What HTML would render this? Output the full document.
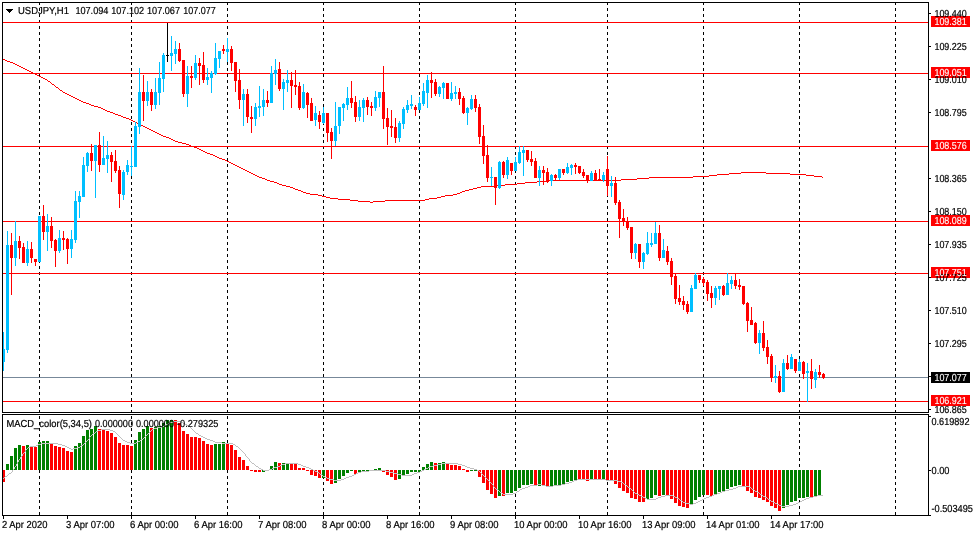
<!DOCTYPE html>
<html lang="en"><head><meta charset="utf-8"><title>USDJPY,H1</title>
<style>html,body{margin:0;padding:0;background:#fff;overflow:hidden}svg{display:block;will-change:transform}text{font-family:"Liberation Sans",Arial,sans-serif;font-size:10.2px;text-rendering:geometricPrecision;fill:#000;stroke:#000;stroke-width:.2px}.w{fill:#fff;stroke:#fff;stroke-width:.1px}</style></head><body>
<svg width="974" height="536" viewBox="0 0 974 536">
<rect width="974" height="536" fill="#fff"/>
<g shape-rendering="crispEdges">
<g fill="#000">
<path d="M39.5 2V412" stroke="#000" stroke-width="1" stroke-dasharray="3 3" fill="none"/>
<path d="M39.5 416V515" stroke="#000" stroke-width="1" stroke-dasharray="3 3" fill="none"/>
<path d="M131.5 2V412" stroke="#000" stroke-width="1" stroke-dasharray="3 3" fill="none"/>
<path d="M131.5 416V515" stroke="#000" stroke-width="1" stroke-dasharray="3 3" fill="none"/>
<path d="M227.5 2V412" stroke="#000" stroke-width="1" stroke-dasharray="3 3" fill="none"/>
<path d="M227.5 416V515" stroke="#000" stroke-width="1" stroke-dasharray="3 3" fill="none"/>
<path d="M323.5 2V412" stroke="#000" stroke-width="1" stroke-dasharray="3 3" fill="none"/>
<path d="M323.5 416V515" stroke="#000" stroke-width="1" stroke-dasharray="3 3" fill="none"/>
<path d="M419.5 2V412" stroke="#000" stroke-width="1" stroke-dasharray="3 3" fill="none"/>
<path d="M419.5 416V515" stroke="#000" stroke-width="1" stroke-dasharray="3 3" fill="none"/>
<path d="M515.5 2V412" stroke="#000" stroke-width="1" stroke-dasharray="3 3" fill="none"/>
<path d="M515.5 416V515" stroke="#000" stroke-width="1" stroke-dasharray="3 3" fill="none"/>
<path d="M607.5 2V412" stroke="#000" stroke-width="1" stroke-dasharray="3 3" fill="none"/>
<path d="M607.5 416V515" stroke="#000" stroke-width="1" stroke-dasharray="3 3" fill="none"/>
<path d="M703.5 2V412" stroke="#000" stroke-width="1" stroke-dasharray="3 3" fill="none"/>
<path d="M703.5 416V515" stroke="#000" stroke-width="1" stroke-dasharray="3 3" fill="none"/>
<path d="M799.5 2V412" stroke="#000" stroke-width="1" stroke-dasharray="3 3" fill="none"/>
<path d="M799.5 416V515" stroke="#000" stroke-width="1" stroke-dasharray="3 3" fill="none"/>
<path d="M895.5 2V412" stroke="#000" stroke-width="1" stroke-dasharray="3 3" fill="none"/>
<path d="M895.5 416V515" stroke="#000" stroke-width="1" stroke-dasharray="3 3" fill="none"/>
</g>
<rect x="3" y="377" width="925" height="1" fill="#778899"/>
<rect x="3" y="22" width="925" height="1" fill="#ff0000"/>
<rect x="3" y="73" width="925" height="1" fill="#ff0000"/>
<rect x="3" y="146" width="925" height="1" fill="#ff0000"/>
<rect x="3" y="221" width="925" height="1" fill="#ff0000"/>
<rect x="3" y="273" width="925" height="1" fill="#ff0000"/>
<rect x="3" y="401" width="925" height="1" fill="#ff0000"/>
<path d="M3 59h2v1h-2zM5 60h2v1h-2zM7 61h3v1h-3zM10 62h3v1h-3zM13 63h2v1h-2zM15 64h2v1h-2zM17 65h2v1h-2zM19 66h2v1h-2zM21 67h2v1h-2zM23 68h2v1h-2zM25 69h2v1h-2zM27 70h2v1h-2zM29 71h2v1h-2zM31 72h2v1h-2zM33 73h2v1h-2zM35 74h2v1h-2zM37 75h2v1h-2zM39 76h2v1h-2zM41 77h2v1h-2zM43 78h2v1h-2zM45 79h2v1h-2zM47 80h1v1h-1zM48 81h2v1h-2zM50 82h1v1h-1zM51 83h1v1h-1zM52 84h2v1h-2zM54 85h1v1h-1zM55 86h1v1h-1zM56 87h2v1h-2zM58 88h1v1h-1zM59 89h1v1h-1zM60 90h2v1h-2zM62 91h1v1h-1zM63 92h2v1h-2zM65 93h2v1h-2zM67 94h2v1h-2zM69 95h2v1h-2zM71 96h2v1h-2zM73 97h2v1h-2zM75 98h2v1h-2zM77 99h2v1h-2zM79 100h2v1h-2zM81 101h2v1h-2zM83 102h3v1h-3zM86 103h3v1h-3zM89 104h2v1h-2zM91 105h3v1h-3zM94 106h4v1h-4zM98 107h3v1h-3zM101 108h2v1h-2zM103 109h2v1h-2zM105 110h2v1h-2zM107 111h3v1h-3zM110 112h3v1h-3zM113 113h2v1h-2zM115 114h3v1h-3zM118 115h3v1h-3zM121 116h2v1h-2zM123 117h3v1h-3zM126 118h3v1h-3zM129 119h2v1h-2zM131 120h2v1h-2zM133 121h2v1h-2zM135 122h2v1h-2zM137 123h2v1h-2zM139 124h2v1h-2zM141 125h2v1h-2zM143 126h2v1h-2zM145 127h2v1h-2zM147 128h2v1h-2zM149 129h2v1h-2zM151 130h2v1h-2zM153 131h2v1h-2zM155 132h2v1h-2zM157 133h2v1h-2zM159 134h2v1h-2zM161 135h2v1h-2zM163 136h3v1h-3zM166 137h3v1h-3zM169 138h2v1h-2zM171 139h2v1h-2zM173 140h2v1h-2zM175 141h3v1h-3zM178 142h4v1h-4zM182 143h4v1h-4zM186 144h3v1h-3zM189 145h2v1h-2zM191 146h3v1h-3zM194 147h3v1h-3zM197 148h2v1h-2zM199 149h2v1h-2zM201 150h2v1h-2zM203 151h2v1h-2zM205 152h2v1h-2zM207 153h3v1h-3zM210 154h3v1h-3zM213 155h2v1h-2zM215 156h2v1h-2zM217 157h2v1h-2zM219 158h3v1h-3zM222 159h3v1h-3zM225 160h2v1h-2zM227 161h2v1h-2zM229 162h2v1h-2zM231 163h2v1h-2zM233 164h2v1h-2zM235 165h2v1h-2zM237 166h2v1h-2zM239 167h2v1h-2zM241 168h2v1h-2zM243 169h2v1h-2zM245 170h2v1h-2zM247 171h2v1h-2zM249 172h2v1h-2zM741 172h25v1h-25zM251 173h2v1h-2zM729 173h12v1h-12zM766 173h24v1h-24zM253 174h2v1h-2zM717 174h12v1h-12zM790 174h16v1h-16zM255 175h2v1h-2zM709 175h8v1h-8zM806 175h8v1h-8zM257 176h2v1h-2zM693 176h16v1h-16zM814 176h8v1h-8zM259 177h3v1h-3zM649 177h44v1h-44zM822 177h1v1h-1zM262 178h3v1h-3zM637 178h12v1h-12zM265 179h2v1h-2zM621 179h16v1h-16zM267 180h3v1h-3zM549 180h72v1h-72zM270 181h4v1h-4zM537 181h12v1h-12zM274 182h3v1h-3zM525 182h12v1h-12zM277 183h2v1h-2zM517 183h8v1h-8zM279 184h3v1h-3zM505 184h12v1h-12zM282 185h4v1h-4zM497 185h8v1h-8zM286 186h4v1h-4zM481 186h16v1h-16zM290 187h3v1h-3zM477 187h4v1h-4zM293 188h2v1h-2zM473 188h4v1h-4zM295 189h3v1h-3zM469 189h4v1h-4zM298 190h3v1h-3zM465 190h4v1h-4zM301 191h2v1h-2zM462 191h3v1h-3zM303 192h3v1h-3zM460 192h2v1h-2zM306 193h4v1h-4zM457 193h3v1h-3zM310 194h8v1h-8zM453 194h4v1h-4zM318 195h4v1h-4zM445 195h8v1h-8zM322 196h4v1h-4zM441 196h4v1h-4zM326 197h4v1h-4zM437 197h4v1h-4zM330 198h8v1h-8zM429 198h8v1h-8zM338 199h12v1h-12zM425 199h4v1h-4zM350 200h8v1h-8zM385 200h40v1h-40zM358 201h12v1h-12zM373 201h12v1h-12zM370 202h3v1h-3z" fill="#ff0000"/>
<rect x="3" y="332" width="1" height="39" fill="#00bfff"/>
<rect x="2" y="349" width="3" height="13" fill="#00bfff"/>
<rect x="7" y="231" width="1" height="122" fill="#00bfff"/>
<rect x="6" y="245" width="3" height="105" fill="#00bfff"/>
<rect x="11" y="233" width="1" height="62" fill="#ff0000"/>
<rect x="10" y="245" width="3" height="13" fill="#ff0000"/>
<rect x="15" y="221" width="1" height="45" fill="#00bfff"/>
<rect x="14" y="241" width="3" height="17" fill="#00bfff"/>
<rect x="19" y="236" width="1" height="23" fill="#ff0000"/>
<rect x="18" y="241" width="3" height="7" fill="#ff0000"/>
<rect x="23" y="243" width="1" height="20" fill="#ff0000"/>
<rect x="22" y="247" width="3" height="16" fill="#ff0000"/>
<rect x="27" y="241" width="1" height="25" fill="#00bfff"/>
<rect x="26" y="249" width="3" height="14" fill="#00bfff"/>
<rect x="31" y="242" width="1" height="21" fill="#ff0000"/>
<rect x="30" y="249" width="3" height="9" fill="#ff0000"/>
<rect x="35" y="259" width="1" height="7" fill="#ff0000"/>
<rect x="34" y="259" width="3" height="3" fill="#ff0000"/>
<rect x="39" y="216" width="1" height="46" fill="#00bfff"/>
<rect x="38" y="216" width="3" height="46" fill="#00bfff"/>
<rect x="43" y="205" width="1" height="35" fill="#ff0000"/>
<rect x="42" y="216" width="3" height="16" fill="#ff0000"/>
<rect x="47" y="214" width="1" height="37" fill="#00bfff"/>
<rect x="46" y="226" width="3" height="6" fill="#00bfff"/>
<rect x="51" y="217" width="1" height="31" fill="#ff0000"/>
<rect x="50" y="226" width="3" height="15" fill="#ff0000"/>
<rect x="55" y="239" width="1" height="28" fill="#ff0000"/>
<rect x="54" y="240" width="3" height="11" fill="#ff0000"/>
<rect x="59" y="230" width="1" height="23" fill="#00bfff"/>
<rect x="58" y="238" width="3" height="13" fill="#00bfff"/>
<rect x="63" y="231" width="1" height="19" fill="#ff0000"/>
<rect x="62" y="238" width="3" height="2" fill="#ff0000"/>
<rect x="67" y="238" width="1" height="26" fill="#ff0000"/>
<rect x="66" y="239" width="3" height="10" fill="#ff0000"/>
<rect x="71" y="230" width="1" height="28" fill="#00bfff"/>
<rect x="70" y="239" width="3" height="10" fill="#00bfff"/>
<rect x="75" y="191" width="1" height="52" fill="#00bfff"/>
<rect x="74" y="201" width="3" height="39" fill="#00bfff"/>
<rect x="79" y="191" width="1" height="27" fill="#00bfff"/>
<rect x="78" y="196" width="3" height="6" fill="#00bfff"/>
<rect x="83" y="157" width="1" height="40" fill="#00bfff"/>
<rect x="82" y="165" width="3" height="32" fill="#00bfff"/>
<rect x="87" y="152" width="1" height="20" fill="#00bfff"/>
<rect x="86" y="153" width="3" height="13" fill="#00bfff"/>
<rect x="91" y="144" width="1" height="27" fill="#ff0000"/>
<rect x="90" y="153" width="3" height="8" fill="#ff0000"/>
<rect x="95" y="145" width="1" height="53" fill="#00bfff"/>
<rect x="94" y="145" width="3" height="16" fill="#00bfff"/>
<rect x="99" y="132" width="1" height="40" fill="#ff0000"/>
<rect x="98" y="145" width="3" height="20" fill="#ff0000"/>
<rect x="103" y="136" width="1" height="29" fill="#00bfff"/>
<rect x="102" y="158" width="3" height="7" fill="#00bfff"/>
<rect x="107" y="141" width="1" height="32" fill="#00bfff"/>
<rect x="106" y="155" width="3" height="4" fill="#00bfff"/>
<rect x="111" y="152" width="1" height="30" fill="#ff0000"/>
<rect x="110" y="155" width="3" height="7" fill="#ff0000"/>
<rect x="115" y="150" width="1" height="23" fill="#ff0000"/>
<rect x="114" y="161" width="3" height="10" fill="#ff0000"/>
<rect x="119" y="166" width="1" height="42" fill="#ff0000"/>
<rect x="118" y="170" width="3" height="24" fill="#ff0000"/>
<rect x="123" y="170" width="1" height="30" fill="#00bfff"/>
<rect x="122" y="172" width="3" height="23" fill="#00bfff"/>
<rect x="127" y="160" width="1" height="15" fill="#00bfff"/>
<rect x="126" y="165" width="3" height="7" fill="#00bfff"/>
<rect x="131" y="146" width="1" height="30" fill="#00bfff"/>
<rect x="130" y="166" width="3" height="1" fill="#00bfff"/>
<rect x="135" y="122" width="1" height="45" fill="#00bfff"/>
<rect x="134" y="126" width="3" height="41" fill="#00bfff"/>
<rect x="139" y="68" width="1" height="66" fill="#00bfff"/>
<rect x="138" y="92" width="3" height="35" fill="#00bfff"/>
<rect x="143" y="75" width="1" height="46" fill="#ff0000"/>
<rect x="142" y="92" width="3" height="9" fill="#ff0000"/>
<rect x="147" y="81" width="1" height="25" fill="#00bfff"/>
<rect x="146" y="92" width="3" height="9" fill="#00bfff"/>
<rect x="151" y="89" width="1" height="22" fill="#ff0000"/>
<rect x="150" y="92" width="3" height="13" fill="#ff0000"/>
<rect x="155" y="78" width="1" height="31" fill="#00bfff"/>
<rect x="154" y="92" width="3" height="13" fill="#00bfff"/>
<rect x="159" y="62" width="1" height="43" fill="#00bfff"/>
<rect x="158" y="78" width="3" height="15" fill="#00bfff"/>
<rect x="163" y="53" width="1" height="39" fill="#00bfff"/>
<rect x="162" y="55" width="3" height="24" fill="#00bfff"/>
<rect x="167" y="23" width="1" height="39" fill="#000"/>
<rect x="166" y="55" width="3" height="1" fill="#000"/>
<rect x="171" y="36" width="1" height="35" fill="#00bfff"/>
<rect x="170" y="53" width="3" height="3" fill="#00bfff"/>
<rect x="175" y="41" width="1" height="23" fill="#00bfff"/>
<rect x="174" y="49" width="3" height="5" fill="#00bfff"/>
<rect x="179" y="43" width="1" height="19" fill="#ff0000"/>
<rect x="178" y="49" width="3" height="12" fill="#ff0000"/>
<rect x="183" y="60" width="1" height="37" fill="#ff0000"/>
<rect x="182" y="60" width="3" height="34" fill="#ff0000"/>
<rect x="187" y="66" width="1" height="41" fill="#00bfff"/>
<rect x="186" y="76" width="3" height="18" fill="#00bfff"/>
<rect x="191" y="66" width="1" height="22" fill="#ff0000"/>
<rect x="190" y="76" width="3" height="2" fill="#ff0000"/>
<rect x="195" y="55" width="1" height="25" fill="#00bfff"/>
<rect x="194" y="63" width="3" height="15" fill="#00bfff"/>
<rect x="199" y="58" width="1" height="27" fill="#ff0000"/>
<rect x="198" y="63" width="3" height="3" fill="#ff0000"/>
<rect x="203" y="52" width="1" height="31" fill="#ff0000"/>
<rect x="202" y="65" width="3" height="15" fill="#ff0000"/>
<rect x="207" y="68" width="1" height="17" fill="#00bfff"/>
<rect x="206" y="77" width="3" height="3" fill="#00bfff"/>
<rect x="211" y="71" width="1" height="22" fill="#00bfff"/>
<rect x="210" y="73" width="3" height="5" fill="#00bfff"/>
<rect x="215" y="43" width="1" height="32" fill="#00bfff"/>
<rect x="214" y="58" width="3" height="16" fill="#00bfff"/>
<rect x="219" y="51" width="1" height="17" fill="#00bfff"/>
<rect x="218" y="51" width="3" height="8" fill="#00bfff"/>
<rect x="223" y="45" width="1" height="9" fill="#ff0000"/>
<rect x="222" y="49" width="3" height="2" fill="#ff0000"/>
<rect x="227" y="38" width="1" height="24" fill="#00bfff"/>
<rect x="226" y="49" width="3" height="3" fill="#00bfff"/>
<rect x="231" y="46" width="1" height="25" fill="#ff0000"/>
<rect x="230" y="49" width="3" height="14" fill="#ff0000"/>
<rect x="235" y="62" width="1" height="30" fill="#ff0000"/>
<rect x="234" y="62" width="3" height="19" fill="#ff0000"/>
<rect x="239" y="69" width="1" height="40" fill="#ff0000"/>
<rect x="238" y="80" width="3" height="20" fill="#ff0000"/>
<rect x="243" y="89" width="1" height="37" fill="#00bfff"/>
<rect x="242" y="94" width="3" height="6" fill="#00bfff"/>
<rect x="247" y="89" width="1" height="34" fill="#ff0000"/>
<rect x="246" y="94" width="3" height="23" fill="#ff0000"/>
<rect x="251" y="106" width="1" height="27" fill="#ff0000"/>
<rect x="250" y="117" width="3" height="2" fill="#ff0000"/>
<rect x="255" y="103" width="1" height="23" fill="#00bfff"/>
<rect x="254" y="107" width="3" height="12" fill="#00bfff"/>
<rect x="259" y="86" width="1" height="31" fill="#00bfff"/>
<rect x="258" y="106" width="3" height="2" fill="#00bfff"/>
<rect x="263" y="89" width="1" height="27" fill="#00bfff"/>
<rect x="262" y="100" width="3" height="7" fill="#00bfff"/>
<rect x="267" y="91" width="1" height="16" fill="#ff0000"/>
<rect x="266" y="100" width="3" height="3" fill="#ff0000"/>
<rect x="271" y="66" width="1" height="37" fill="#00bfff"/>
<rect x="270" y="73" width="3" height="30" fill="#00bfff"/>
<rect x="275" y="59" width="1" height="26" fill="#00bfff"/>
<rect x="274" y="70" width="3" height="4" fill="#00bfff"/>
<rect x="279" y="62" width="1" height="29" fill="#ff0000"/>
<rect x="278" y="69" width="3" height="20" fill="#ff0000"/>
<rect x="283" y="79" width="1" height="31" fill="#00bfff"/>
<rect x="282" y="82" width="3" height="7" fill="#00bfff"/>
<rect x="287" y="70" width="1" height="22" fill="#00bfff"/>
<rect x="286" y="80" width="3" height="3" fill="#00bfff"/>
<rect x="291" y="72" width="1" height="36" fill="#ff0000"/>
<rect x="290" y="80" width="3" height="6" fill="#ff0000"/>
<rect x="295" y="70" width="1" height="25" fill="#ff0000"/>
<rect x="294" y="85" width="3" height="2" fill="#ff0000"/>
<rect x="299" y="82" width="1" height="28" fill="#ff0000"/>
<rect x="298" y="86" width="3" height="22" fill="#ff0000"/>
<rect x="303" y="84" width="1" height="25" fill="#00bfff"/>
<rect x="302" y="92" width="3" height="16" fill="#00bfff"/>
<rect x="307" y="92" width="1" height="26" fill="#ff0000"/>
<rect x="306" y="93" width="3" height="12" fill="#ff0000"/>
<rect x="311" y="98" width="1" height="23" fill="#ff0000"/>
<rect x="310" y="103" width="3" height="18" fill="#ff0000"/>
<rect x="315" y="106" width="1" height="20" fill="#00bfff"/>
<rect x="314" y="113" width="3" height="7" fill="#00bfff"/>
<rect x="319" y="111" width="1" height="18" fill="#ff0000"/>
<rect x="318" y="115" width="3" height="7" fill="#ff0000"/>
<rect x="323" y="107" width="1" height="17" fill="#00bfff"/>
<rect x="322" y="113" width="3" height="10" fill="#00bfff"/>
<rect x="327" y="113" width="1" height="29" fill="#ff0000"/>
<rect x="326" y="113" width="3" height="20" fill="#ff0000"/>
<rect x="331" y="128" width="1" height="31" fill="#ff0000"/>
<rect x="330" y="132" width="3" height="9" fill="#ff0000"/>
<rect x="335" y="102" width="1" height="44" fill="#00bfff"/>
<rect x="334" y="126" width="3" height="15" fill="#00bfff"/>
<rect x="339" y="107" width="1" height="27" fill="#00bfff"/>
<rect x="338" y="107" width="3" height="19" fill="#00bfff"/>
<rect x="343" y="103" width="1" height="18" fill="#00bfff"/>
<rect x="342" y="104" width="3" height="4" fill="#00bfff"/>
<rect x="347" y="87" width="1" height="23" fill="#00bfff"/>
<rect x="346" y="98" width="3" height="7" fill="#00bfff"/>
<rect x="351" y="81" width="1" height="27" fill="#ff0000"/>
<rect x="350" y="98" width="3" height="5" fill="#ff0000"/>
<rect x="355" y="96" width="1" height="26" fill="#ff0000"/>
<rect x="354" y="102" width="3" height="15" fill="#ff0000"/>
<rect x="359" y="100" width="1" height="21" fill="#00bfff"/>
<rect x="358" y="107" width="3" height="10" fill="#00bfff"/>
<rect x="363" y="98" width="1" height="24" fill="#00bfff"/>
<rect x="362" y="100" width="3" height="8" fill="#00bfff"/>
<rect x="367" y="97" width="1" height="18" fill="#ff0000"/>
<rect x="366" y="100" width="3" height="7" fill="#ff0000"/>
<rect x="371" y="102" width="1" height="14" fill="#ff0000"/>
<rect x="370" y="106" width="3" height="2" fill="#ff0000"/>
<rect x="375" y="91" width="1" height="20" fill="#00bfff"/>
<rect x="374" y="97" width="3" height="11" fill="#00bfff"/>
<rect x="379" y="92" width="1" height="15" fill="#00bfff"/>
<rect x="378" y="92" width="3" height="6" fill="#00bfff"/>
<rect x="383" y="66" width="1" height="63" fill="#ff0000"/>
<rect x="382" y="92" width="3" height="27" fill="#ff0000"/>
<rect x="387" y="108" width="1" height="37" fill="#ff0000"/>
<rect x="386" y="118" width="3" height="9" fill="#ff0000"/>
<rect x="391" y="110" width="1" height="27" fill="#ff0000"/>
<rect x="390" y="126" width="3" height="2" fill="#ff0000"/>
<rect x="395" y="118" width="1" height="25" fill="#ff0000"/>
<rect x="394" y="127" width="3" height="11" fill="#ff0000"/>
<rect x="399" y="121" width="1" height="21" fill="#00bfff"/>
<rect x="398" y="123" width="3" height="15" fill="#00bfff"/>
<rect x="403" y="107" width="1" height="22" fill="#00bfff"/>
<rect x="402" y="109" width="3" height="15" fill="#00bfff"/>
<rect x="407" y="100" width="1" height="13" fill="#00bfff"/>
<rect x="406" y="105" width="3" height="5" fill="#00bfff"/>
<rect x="411" y="95" width="1" height="14" fill="#00bfff"/>
<rect x="410" y="104" width="3" height="2" fill="#00bfff"/>
<rect x="415" y="105" width="1" height="11" fill="#ff0000"/>
<rect x="414" y="107" width="3" height="3" fill="#ff0000"/>
<rect x="419" y="97" width="1" height="13" fill="#00bfff"/>
<rect x="418" y="103" width="3" height="7" fill="#00bfff"/>
<rect x="423" y="83" width="1" height="23" fill="#00bfff"/>
<rect x="422" y="91" width="3" height="13" fill="#00bfff"/>
<rect x="427" y="75" width="1" height="33" fill="#00bfff"/>
<rect x="426" y="80" width="3" height="13" fill="#00bfff"/>
<rect x="431" y="72" width="1" height="26" fill="#ff0000"/>
<rect x="430" y="80" width="3" height="3" fill="#ff0000"/>
<rect x="435" y="79" width="1" height="17" fill="#ff0000"/>
<rect x="434" y="82" width="3" height="12" fill="#ff0000"/>
<rect x="439" y="86" width="1" height="11" fill="#00bfff"/>
<rect x="438" y="87" width="3" height="7" fill="#00bfff"/>
<rect x="443" y="82" width="1" height="17" fill="#00bfff"/>
<rect x="442" y="83" width="3" height="5" fill="#00bfff"/>
<rect x="447" y="83" width="1" height="16" fill="#ff0000"/>
<rect x="446" y="83" width="3" height="16" fill="#ff0000"/>
<rect x="451" y="82" width="1" height="19" fill="#00bfff"/>
<rect x="450" y="93" width="3" height="6" fill="#00bfff"/>
<rect x="455" y="86" width="1" height="13" fill="#00bfff"/>
<rect x="454" y="92" width="3" height="2" fill="#00bfff"/>
<rect x="459" y="88" width="1" height="17" fill="#ff0000"/>
<rect x="458" y="92" width="3" height="7" fill="#ff0000"/>
<rect x="463" y="96" width="1" height="18" fill="#ff0000"/>
<rect x="462" y="98" width="3" height="15" fill="#ff0000"/>
<rect x="467" y="107" width="1" height="18" fill="#00bfff"/>
<rect x="466" y="108" width="3" height="5" fill="#00bfff"/>
<rect x="471" y="95" width="1" height="15" fill="#00bfff"/>
<rect x="470" y="99" width="3" height="10" fill="#00bfff"/>
<rect x="475" y="95" width="1" height="17" fill="#ff0000"/>
<rect x="474" y="99" width="3" height="9" fill="#ff0000"/>
<rect x="479" y="104" width="1" height="40" fill="#ff0000"/>
<rect x="478" y="107" width="3" height="30" fill="#ff0000"/>
<rect x="483" y="125" width="1" height="39" fill="#ff0000"/>
<rect x="482" y="136" width="3" height="20" fill="#ff0000"/>
<rect x="487" y="145" width="1" height="37" fill="#ff0000"/>
<rect x="486" y="155" width="3" height="23" fill="#ff0000"/>
<rect x="491" y="167" width="1" height="19" fill="#00bfff"/>
<rect x="490" y="177" width="3" height="1" fill="#00bfff"/>
<rect x="495" y="177" width="1" height="28" fill="#ff0000"/>
<rect x="494" y="177" width="3" height="11" fill="#ff0000"/>
<rect x="499" y="161" width="1" height="28" fill="#00bfff"/>
<rect x="498" y="162" width="3" height="26" fill="#00bfff"/>
<rect x="503" y="161" width="1" height="17" fill="#ff0000"/>
<rect x="502" y="162" width="3" height="13" fill="#ff0000"/>
<rect x="507" y="157" width="1" height="22" fill="#00bfff"/>
<rect x="506" y="160" width="3" height="15" fill="#00bfff"/>
<rect x="511" y="163" width="1" height="12" fill="#ff0000"/>
<rect x="510" y="163" width="3" height="8" fill="#ff0000"/>
<rect x="515" y="157" width="1" height="14" fill="#00bfff"/>
<rect x="514" y="162" width="3" height="9" fill="#00bfff"/>
<rect x="519" y="146" width="1" height="18" fill="#00bfff"/>
<rect x="518" y="152" width="3" height="11" fill="#00bfff"/>
<rect x="523" y="146" width="1" height="30" fill="#00bfff"/>
<rect x="522" y="150" width="3" height="3" fill="#00bfff"/>
<rect x="527" y="150" width="1" height="12" fill="#ff0000"/>
<rect x="526" y="150" width="3" height="10" fill="#ff0000"/>
<rect x="531" y="151" width="1" height="15" fill="#ff0000"/>
<rect x="530" y="159" width="3" height="3" fill="#ff0000"/>
<rect x="535" y="158" width="1" height="20" fill="#ff0000"/>
<rect x="534" y="161" width="3" height="17" fill="#ff0000"/>
<rect x="539" y="166" width="1" height="20" fill="#00bfff"/>
<rect x="538" y="170" width="3" height="8" fill="#00bfff"/>
<rect x="543" y="166" width="1" height="19" fill="#ff0000"/>
<rect x="542" y="170" width="3" height="3" fill="#ff0000"/>
<rect x="547" y="168" width="1" height="15" fill="#ff0000"/>
<rect x="546" y="172" width="3" height="10" fill="#ff0000"/>
<rect x="551" y="174" width="1" height="12" fill="#00bfff"/>
<rect x="550" y="175" width="3" height="6" fill="#00bfff"/>
<rect x="555" y="174" width="1" height="6" fill="#ff0000"/>
<rect x="554" y="175" width="3" height="3" fill="#ff0000"/>
<rect x="559" y="169" width="1" height="11" fill="#00bfff"/>
<rect x="558" y="169" width="3" height="9" fill="#00bfff"/>
<rect x="563" y="169" width="1" height="6" fill="#ff0000"/>
<rect x="562" y="169" width="3" height="4" fill="#ff0000"/>
<rect x="567" y="163" width="1" height="11" fill="#00bfff"/>
<rect x="566" y="167" width="3" height="6" fill="#00bfff"/>
<rect x="571" y="164" width="1" height="11" fill="#00bfff"/>
<rect x="570" y="165" width="3" height="3" fill="#00bfff"/>
<rect x="575" y="163" width="1" height="11" fill="#ff0000"/>
<rect x="574" y="165" width="3" height="2" fill="#ff0000"/>
<rect x="579" y="166" width="1" height="8" fill="#ff0000"/>
<rect x="578" y="166" width="3" height="7" fill="#ff0000"/>
<rect x="583" y="169" width="1" height="9" fill="#ff0000"/>
<rect x="582" y="172" width="3" height="4" fill="#ff0000"/>
<rect x="587" y="175" width="1" height="8" fill="#ff0000"/>
<rect x="586" y="175" width="3" height="6" fill="#ff0000"/>
<rect x="591" y="171" width="1" height="10" fill="#00bfff"/>
<rect x="590" y="173" width="3" height="8" fill="#00bfff"/>
<rect x="595" y="170" width="1" height="11" fill="#ff0000"/>
<rect x="594" y="173" width="3" height="8" fill="#ff0000"/>
<rect x="599" y="169" width="1" height="12" fill="#ff0000"/>
<rect x="598" y="179" width="3" height="2" fill="#ff0000"/>
<rect x="603" y="172" width="1" height="10" fill="#00bfff"/>
<rect x="602" y="175" width="3" height="5" fill="#00bfff"/>
<rect x="607" y="156" width="1" height="40" fill="#ff0000"/>
<rect x="606" y="169" width="3" height="17" fill="#ff0000"/>
<rect x="611" y="176" width="1" height="21" fill="#00bfff"/>
<rect x="610" y="183" width="3" height="3" fill="#00bfff"/>
<rect x="615" y="177" width="1" height="28" fill="#ff0000"/>
<rect x="614" y="183" width="3" height="20" fill="#ff0000"/>
<rect x="619" y="200" width="1" height="38" fill="#ff0000"/>
<rect x="618" y="202" width="3" height="17" fill="#ff0000"/>
<rect x="623" y="209" width="1" height="17" fill="#ff0000"/>
<rect x="622" y="218" width="3" height="4" fill="#ff0000"/>
<rect x="627" y="217" width="1" height="13" fill="#ff0000"/>
<rect x="626" y="222" width="3" height="6" fill="#ff0000"/>
<rect x="631" y="227" width="1" height="32" fill="#ff0000"/>
<rect x="630" y="227" width="3" height="26" fill="#ff0000"/>
<rect x="635" y="243" width="1" height="16" fill="#00bfff"/>
<rect x="634" y="244" width="3" height="9" fill="#00bfff"/>
<rect x="639" y="244" width="1" height="24" fill="#ff0000"/>
<rect x="638" y="244" width="3" height="18" fill="#ff0000"/>
<rect x="643" y="252" width="1" height="17" fill="#00bfff"/>
<rect x="642" y="253" width="3" height="9" fill="#00bfff"/>
<rect x="647" y="232" width="1" height="23" fill="#00bfff"/>
<rect x="646" y="243" width="3" height="11" fill="#00bfff"/>
<rect x="651" y="233" width="1" height="14" fill="#00bfff"/>
<rect x="650" y="243" width="3" height="2" fill="#00bfff"/>
<rect x="655" y="222" width="1" height="22" fill="#00bfff"/>
<rect x="654" y="233" width="3" height="11" fill="#00bfff"/>
<rect x="659" y="225" width="1" height="36" fill="#ff0000"/>
<rect x="658" y="233" width="3" height="25" fill="#ff0000"/>
<rect x="663" y="239" width="1" height="19" fill="#00bfff"/>
<rect x="662" y="250" width="3" height="8" fill="#00bfff"/>
<rect x="667" y="246" width="1" height="19" fill="#ff0000"/>
<rect x="666" y="251" width="3" height="11" fill="#ff0000"/>
<rect x="671" y="258" width="1" height="27" fill="#ff0000"/>
<rect x="670" y="261" width="3" height="16" fill="#ff0000"/>
<rect x="675" y="274" width="1" height="30" fill="#ff0000"/>
<rect x="674" y="276" width="3" height="23" fill="#ff0000"/>
<rect x="679" y="285" width="1" height="20" fill="#ff0000"/>
<rect x="678" y="298" width="3" height="4" fill="#ff0000"/>
<rect x="683" y="296" width="1" height="14" fill="#ff0000"/>
<rect x="682" y="301" width="3" height="4" fill="#ff0000"/>
<rect x="687" y="301" width="1" height="13" fill="#ff0000"/>
<rect x="686" y="304" width="3" height="8" fill="#ff0000"/>
<rect x="691" y="285" width="1" height="27" fill="#00bfff"/>
<rect x="690" y="288" width="3" height="24" fill="#00bfff"/>
<rect x="695" y="273" width="1" height="16" fill="#00bfff"/>
<rect x="694" y="275" width="3" height="14" fill="#00bfff"/>
<rect x="699" y="275" width="1" height="8" fill="#ff0000"/>
<rect x="698" y="275" width="3" height="5" fill="#ff0000"/>
<rect x="703" y="277" width="1" height="9" fill="#ff0000"/>
<rect x="702" y="279" width="3" height="4" fill="#ff0000"/>
<rect x="707" y="280" width="1" height="21" fill="#ff0000"/>
<rect x="706" y="282" width="3" height="12" fill="#ff0000"/>
<rect x="711" y="286" width="1" height="22" fill="#ff0000"/>
<rect x="710" y="293" width="3" height="5" fill="#ff0000"/>
<rect x="715" y="286" width="1" height="19" fill="#00bfff"/>
<rect x="714" y="288" width="3" height="10" fill="#00bfff"/>
<rect x="719" y="286" width="1" height="14" fill="#00bfff"/>
<rect x="718" y="286" width="3" height="3" fill="#00bfff"/>
<rect x="723" y="285" width="1" height="11" fill="#ff0000"/>
<rect x="722" y="286" width="3" height="9" fill="#ff0000"/>
<rect x="727" y="273" width="1" height="22" fill="#00bfff"/>
<rect x="726" y="283" width="3" height="12" fill="#00bfff"/>
<rect x="731" y="276" width="1" height="13" fill="#00bfff"/>
<rect x="730" y="280" width="3" height="4" fill="#00bfff"/>
<rect x="735" y="274" width="1" height="15" fill="#ff0000"/>
<rect x="734" y="280" width="3" height="6" fill="#ff0000"/>
<rect x="739" y="279" width="1" height="11" fill="#ff0000"/>
<rect x="738" y="285" width="3" height="2" fill="#ff0000"/>
<rect x="743" y="286" width="1" height="19" fill="#ff0000"/>
<rect x="742" y="286" width="3" height="18" fill="#ff0000"/>
<rect x="747" y="302" width="1" height="30" fill="#ff0000"/>
<rect x="746" y="303" width="3" height="18" fill="#ff0000"/>
<rect x="751" y="307" width="1" height="18" fill="#ff0000"/>
<rect x="750" y="320" width="3" height="5" fill="#ff0000"/>
<rect x="755" y="322" width="1" height="22" fill="#ff0000"/>
<rect x="754" y="323" width="3" height="20" fill="#ff0000"/>
<rect x="759" y="330" width="1" height="24" fill="#00bfff"/>
<rect x="758" y="333" width="3" height="10" fill="#00bfff"/>
<rect x="763" y="321" width="1" height="30" fill="#ff0000"/>
<rect x="762" y="333" width="3" height="15" fill="#ff0000"/>
<rect x="767" y="340" width="1" height="24" fill="#ff0000"/>
<rect x="766" y="347" width="3" height="10" fill="#ff0000"/>
<rect x="771" y="354" width="1" height="28" fill="#ff0000"/>
<rect x="770" y="356" width="3" height="22" fill="#ff0000"/>
<rect x="775" y="365" width="1" height="18" fill="#00bfff"/>
<rect x="774" y="376" width="3" height="2" fill="#00bfff"/>
<rect x="779" y="371" width="1" height="22" fill="#ff0000"/>
<rect x="778" y="376" width="3" height="16" fill="#ff0000"/>
<rect x="783" y="359" width="1" height="33" fill="#00bfff"/>
<rect x="782" y="363" width="3" height="29" fill="#00bfff"/>
<rect x="787" y="355" width="1" height="15" fill="#ff0000"/>
<rect x="786" y="363" width="3" height="6" fill="#ff0000"/>
<rect x="791" y="354" width="1" height="15" fill="#00bfff"/>
<rect x="790" y="357" width="3" height="12" fill="#00bfff"/>
<rect x="795" y="359" width="1" height="14" fill="#ff0000"/>
<rect x="794" y="359" width="3" height="12" fill="#ff0000"/>
<rect x="799" y="359" width="1" height="12" fill="#00bfff"/>
<rect x="798" y="362" width="3" height="9" fill="#00bfff"/>
<rect x="803" y="361" width="1" height="18" fill="#ff0000"/>
<rect x="802" y="362" width="3" height="12" fill="#ff0000"/>
<rect x="807" y="363" width="1" height="39" fill="#00bfff"/>
<rect x="806" y="371" width="3" height="2" fill="#00bfff"/>
<rect x="811" y="359" width="1" height="30" fill="#ff0000"/>
<rect x="810" y="371" width="3" height="8" fill="#ff0000"/>
<rect x="815" y="369" width="1" height="19" fill="#00bfff"/>
<rect x="814" y="372" width="3" height="8" fill="#00bfff"/>
<rect x="819" y="365" width="1" height="13" fill="#ff0000"/>
<rect x="818" y="372" width="3" height="3" fill="#ff0000"/>
<rect x="823" y="373" width="1" height="6" fill="#ff0000"/>
<rect x="822" y="374" width="3" height="4" fill="#ff0000"/>
<rect x="6" y="464" width="3" height="6" fill="#008000"/>
<rect x="10" y="456" width="3" height="14" fill="#008000"/>
<rect x="14" y="448" width="3" height="22" fill="#008000"/>
<rect x="18" y="445" width="3" height="25" fill="#008000"/>
<rect x="22" y="446" width="3" height="24" fill="#ff0000"/>
<rect x="26" y="445" width="3" height="25" fill="#008000"/>
<rect x="30" y="447" width="3" height="23" fill="#ff0000"/>
<rect x="34" y="447" width="3" height="23" fill="#ff0000"/>
<rect x="38" y="442" width="3" height="28" fill="#008000"/>
<rect x="42" y="441" width="3" height="29" fill="#008000"/>
<rect x="46" y="441" width="3" height="29" fill="#008000"/>
<rect x="50" y="444" width="3" height="26" fill="#ff0000"/>
<rect x="54" y="446" width="3" height="24" fill="#ff0000"/>
<rect x="58" y="447" width="3" height="23" fill="#ff0000"/>
<rect x="62" y="448" width="3" height="22" fill="#ff0000"/>
<rect x="66" y="451" width="3" height="19" fill="#ff0000"/>
<rect x="70" y="452" width="3" height="18" fill="#ff0000"/>
<rect x="74" y="446" width="3" height="24" fill="#008000"/>
<rect x="78" y="443" width="3" height="27" fill="#008000"/>
<rect x="82" y="436" width="3" height="34" fill="#008000"/>
<rect x="86" y="430" width="3" height="40" fill="#008000"/>
<rect x="90" y="429" width="3" height="41" fill="#008000"/>
<rect x="94" y="426" width="3" height="44" fill="#008000"/>
<rect x="98" y="429" width="3" height="41" fill="#ff0000"/>
<rect x="102" y="430" width="3" height="40" fill="#ff0000"/>
<rect x="106" y="431" width="3" height="39" fill="#ff0000"/>
<rect x="110" y="433" width="3" height="37" fill="#ff0000"/>
<rect x="114" y="437" width="3" height="33" fill="#ff0000"/>
<rect x="118" y="443" width="3" height="27" fill="#ff0000"/>
<rect x="122" y="445" width="3" height="25" fill="#ff0000"/>
<rect x="126" y="445" width="3" height="25" fill="#ff0000"/>
<rect x="130" y="446" width="3" height="24" fill="#ff0000"/>
<rect x="134" y="440" width="3" height="30" fill="#008000"/>
<rect x="138" y="432" width="3" height="38" fill="#008000"/>
<rect x="142" y="429" width="3" height="41" fill="#008000"/>
<rect x="146" y="426" width="3" height="44" fill="#008000"/>
<rect x="150" y="428" width="3" height="42" fill="#ff0000"/>
<rect x="154" y="427" width="3" height="43" fill="#008000"/>
<rect x="158" y="426" width="3" height="44" fill="#008000"/>
<rect x="162" y="423" width="3" height="47" fill="#008000"/>
<rect x="166" y="420" width="3" height="50" fill="#008000"/>
<rect x="170" y="420" width="3" height="50" fill="#008000"/>
<rect x="174" y="420" width="3" height="50" fill="#ff0000"/>
<rect x="178" y="423" width="3" height="47" fill="#ff0000"/>
<rect x="182" y="431" width="3" height="39" fill="#ff0000"/>
<rect x="186" y="434" width="3" height="36" fill="#ff0000"/>
<rect x="190" y="437" width="3" height="33" fill="#ff0000"/>
<rect x="194" y="437" width="3" height="33" fill="#ff0000"/>
<rect x="198" y="438" width="3" height="32" fill="#ff0000"/>
<rect x="202" y="441" width="3" height="29" fill="#ff0000"/>
<rect x="206" y="444" width="3" height="26" fill="#ff0000"/>
<rect x="210" y="445" width="3" height="25" fill="#ff0000"/>
<rect x="214" y="444" width="3" height="26" fill="#008000"/>
<rect x="218" y="444" width="3" height="26" fill="#008000"/>
<rect x="222" y="442" width="3" height="28" fill="#008000"/>
<rect x="226" y="444" width="3" height="26" fill="#ff0000"/>
<rect x="230" y="445" width="3" height="25" fill="#ff0000"/>
<rect x="234" y="450" width="3" height="20" fill="#ff0000"/>
<rect x="238" y="457" width="3" height="13" fill="#ff0000"/>
<rect x="242" y="460" width="3" height="10" fill="#ff0000"/>
<rect x="246" y="466" width="3" height="4" fill="#ff0000"/>
<rect x="270" y="466" width="3" height="4" fill="#008000"/>
<rect x="274" y="462" width="3" height="8" fill="#008000"/>
<rect x="278" y="463" width="3" height="7" fill="#ff0000"/>
<rect x="282" y="463" width="3" height="7" fill="#008000"/>
<rect x="286" y="464" width="3" height="6" fill="#008000"/>
<rect x="290" y="464" width="3" height="6" fill="#ff0000"/>
<rect x="294" y="464" width="3" height="6" fill="#ff0000"/>
<rect x="298" y="468" width="3" height="2" fill="#ff0000"/>
<rect x="302" y="468" width="3" height="2" fill="#ff0000"/>
<rect x="374" y="469" width="3" height="1" fill="#008000"/>
<rect x="378" y="468" width="3" height="2" fill="#008000"/>
<rect x="422" y="467" width="3" height="3" fill="#008000"/>
<rect x="426" y="464" width="3" height="6" fill="#008000"/>
<rect x="430" y="462" width="3" height="8" fill="#008000"/>
<rect x="434" y="463" width="3" height="7" fill="#ff0000"/>
<rect x="438" y="463" width="3" height="7" fill="#008000"/>
<rect x="442" y="462" width="3" height="8" fill="#008000"/>
<rect x="446" y="464" width="3" height="6" fill="#ff0000"/>
<rect x="450" y="465" width="3" height="5" fill="#ff0000"/>
<rect x="454" y="465" width="3" height="5" fill="#ff0000"/>
<rect x="458" y="466" width="3" height="4" fill="#ff0000"/>
<rect x="462" y="469" width="3" height="1" fill="#ff0000"/>
<rect x="2" y="470" width="3" height="12" fill="#ff0000"/>
<rect x="250" y="470" width="3" height="1" fill="#ff0000"/>
<rect x="254" y="470" width="3" height="2" fill="#ff0000"/>
<rect x="258" y="470" width="3" height="2" fill="#ff0000"/>
<rect x="262" y="470" width="3" height="2" fill="#008000"/>
<rect x="266" y="470" width="3" height="1" fill="#008000"/>
<rect x="306" y="470" width="3" height="1" fill="#ff0000"/>
<rect x="310" y="470" width="3" height="5" fill="#ff0000"/>
<rect x="314" y="470" width="3" height="6" fill="#ff0000"/>
<rect x="318" y="470" width="3" height="8" fill="#ff0000"/>
<rect x="322" y="470" width="3" height="8" fill="#008000"/>
<rect x="326" y="470" width="3" height="11" fill="#ff0000"/>
<rect x="330" y="470" width="3" height="14" fill="#ff0000"/>
<rect x="334" y="470" width="3" height="13" fill="#008000"/>
<rect x="338" y="470" width="3" height="9" fill="#008000"/>
<rect x="342" y="470" width="3" height="6" fill="#008000"/>
<rect x="346" y="470" width="3" height="3" fill="#008000"/>
<rect x="350" y="470" width="3" height="1" fill="#008000"/>
<rect x="354" y="470" width="3" height="4" fill="#ff0000"/>
<rect x="358" y="470" width="3" height="3" fill="#008000"/>
<rect x="362" y="470" width="3" height="2" fill="#008000"/>
<rect x="366" y="470" width="3" height="1" fill="#008000"/>
<rect x="370" y="470" width="3" height="1" fill="#ff0000"/>
<rect x="382" y="470" width="3" height="2" fill="#ff0000"/>
<rect x="386" y="470" width="3" height="5" fill="#ff0000"/>
<rect x="390" y="470" width="3" height="7" fill="#ff0000"/>
<rect x="394" y="470" width="3" height="10" fill="#ff0000"/>
<rect x="398" y="470" width="3" height="9" fill="#008000"/>
<rect x="402" y="470" width="3" height="6" fill="#008000"/>
<rect x="406" y="470" width="3" height="4" fill="#008000"/>
<rect x="410" y="470" width="3" height="2" fill="#008000"/>
<rect x="414" y="470" width="3" height="2" fill="#008000"/>
<rect x="418" y="470" width="3" height="2" fill="#008000"/>
<rect x="466" y="470" width="3" height="2" fill="#ff0000"/>
<rect x="470" y="470" width="3" height="1" fill="#008000"/>
<rect x="474" y="470" width="3" height="1" fill="#008000"/>
<rect x="478" y="470" width="3" height="7" fill="#ff0000"/>
<rect x="482" y="470" width="3" height="13" fill="#ff0000"/>
<rect x="486" y="470" width="3" height="20" fill="#ff0000"/>
<rect x="490" y="470" width="3" height="24" fill="#ff0000"/>
<rect x="494" y="470" width="3" height="28" fill="#ff0000"/>
<rect x="498" y="470" width="3" height="26" fill="#008000"/>
<rect x="502" y="470" width="3" height="26" fill="#ff0000"/>
<rect x="506" y="470" width="3" height="23" fill="#008000"/>
<rect x="510" y="470" width="3" height="23" fill="#008000"/>
<rect x="514" y="470" width="3" height="21" fill="#008000"/>
<rect x="518" y="470" width="3" height="18" fill="#008000"/>
<rect x="522" y="470" width="3" height="15" fill="#008000"/>
<rect x="526" y="470" width="3" height="15" fill="#008000"/>
<rect x="530" y="470" width="3" height="14" fill="#008000"/>
<rect x="534" y="470" width="3" height="15" fill="#ff0000"/>
<rect x="538" y="470" width="3" height="16" fill="#008000"/>
<rect x="542" y="470" width="3" height="15" fill="#ff0000"/>
<rect x="546" y="470" width="3" height="17" fill="#ff0000"/>
<rect x="550" y="470" width="3" height="16" fill="#008000"/>
<rect x="554" y="470" width="3" height="16" fill="#008000"/>
<rect x="558" y="470" width="3" height="15" fill="#008000"/>
<rect x="562" y="470" width="3" height="14" fill="#008000"/>
<rect x="566" y="470" width="3" height="12" fill="#008000"/>
<rect x="570" y="470" width="3" height="11" fill="#008000"/>
<rect x="574" y="470" width="3" height="10" fill="#008000"/>
<rect x="578" y="470" width="3" height="10" fill="#ff0000"/>
<rect x="582" y="470" width="3" height="10" fill="#ff0000"/>
<rect x="586" y="470" width="3" height="11" fill="#ff0000"/>
<rect x="590" y="470" width="3" height="10" fill="#008000"/>
<rect x="594" y="470" width="3" height="10" fill="#ff0000"/>
<rect x="598" y="470" width="3" height="10" fill="#ff0000"/>
<rect x="602" y="470" width="3" height="10" fill="#008000"/>
<rect x="606" y="470" width="3" height="10" fill="#ff0000"/>
<rect x="610" y="470" width="3" height="10" fill="#ff0000"/>
<rect x="614" y="470" width="3" height="14" fill="#ff0000"/>
<rect x="618" y="470" width="3" height="18" fill="#ff0000"/>
<rect x="622" y="470" width="3" height="21" fill="#ff0000"/>
<rect x="626" y="470" width="3" height="23" fill="#ff0000"/>
<rect x="630" y="470" width="3" height="28" fill="#ff0000"/>
<rect x="634" y="470" width="3" height="29" fill="#ff0000"/>
<rect x="638" y="470" width="3" height="32" fill="#ff0000"/>
<rect x="642" y="470" width="3" height="32" fill="#ff0000"/>
<rect x="646" y="470" width="3" height="29" fill="#008000"/>
<rect x="650" y="470" width="3" height="28" fill="#008000"/>
<rect x="654" y="470" width="3" height="25" fill="#008000"/>
<rect x="658" y="470" width="3" height="26" fill="#ff0000"/>
<rect x="662" y="470" width="3" height="25" fill="#008000"/>
<rect x="666" y="470" width="3" height="26" fill="#ff0000"/>
<rect x="670" y="470" width="3" height="29" fill="#ff0000"/>
<rect x="674" y="470" width="3" height="33" fill="#ff0000"/>
<rect x="678" y="470" width="3" height="36" fill="#ff0000"/>
<rect x="682" y="470" width="3" height="37" fill="#ff0000"/>
<rect x="686" y="470" width="3" height="38" fill="#ff0000"/>
<rect x="690" y="470" width="3" height="35" fill="#008000"/>
<rect x="694" y="470" width="3" height="30" fill="#008000"/>
<rect x="698" y="470" width="3" height="27" fill="#008000"/>
<rect x="702" y="470" width="3" height="25" fill="#008000"/>
<rect x="706" y="470" width="3" height="25" fill="#ff0000"/>
<rect x="710" y="470" width="3" height="26" fill="#ff0000"/>
<rect x="714" y="470" width="3" height="24" fill="#008000"/>
<rect x="718" y="470" width="3" height="22" fill="#008000"/>
<rect x="722" y="470" width="3" height="22" fill="#008000"/>
<rect x="726" y="470" width="3" height="19" fill="#008000"/>
<rect x="730" y="470" width="3" height="17" fill="#008000"/>
<rect x="734" y="470" width="3" height="16" fill="#008000"/>
<rect x="738" y="470" width="3" height="15" fill="#008000"/>
<rect x="742" y="470" width="3" height="16" fill="#ff0000"/>
<rect x="746" y="470" width="3" height="21" fill="#ff0000"/>
<rect x="750" y="470" width="3" height="23" fill="#ff0000"/>
<rect x="754" y="470" width="3" height="27" fill="#ff0000"/>
<rect x="758" y="470" width="3" height="28" fill="#ff0000"/>
<rect x="762" y="470" width="3" height="30" fill="#ff0000"/>
<rect x="766" y="470" width="3" height="32" fill="#ff0000"/>
<rect x="770" y="470" width="3" height="36" fill="#ff0000"/>
<rect x="774" y="470" width="3" height="38" fill="#ff0000"/>
<rect x="778" y="470" width="3" height="41" fill="#ff0000"/>
<rect x="782" y="470" width="3" height="38" fill="#008000"/>
<rect x="786" y="470" width="3" height="35" fill="#008000"/>
<rect x="790" y="470" width="3" height="32" fill="#008000"/>
<rect x="794" y="470" width="3" height="31" fill="#008000"/>
<rect x="798" y="470" width="3" height="28" fill="#008000"/>
<rect x="802" y="470" width="3" height="28" fill="#008000"/>
<rect x="806" y="470" width="3" height="27" fill="#008000"/>
<rect x="810" y="470" width="3" height="27" fill="#ff0000"/>
<rect x="814" y="470" width="3" height="26" fill="#008000"/>
<rect x="818" y="470" width="3" height="25" fill="#008000"/>
<path d="M173 421h8v1h-8zM170 422h3v1h-3zM181 422h2v1h-2zM168 423h2v1h-2zM183 423h2v1h-2zM166 424h2v1h-2zM185 424h2v1h-2zM164 425h2v1h-2zM187 425h1v1h-1zM161 426h3v1h-3zM188 426h2v1h-2zM157 427h4v1h-4zM190 427h1v1h-1zM154 428h3v1h-3zM191 428h1v1h-1zM101 429h9v1h-9zM152 429h2v1h-2zM192 429h1v1h-1zM98 430h3v1h-3zM110 430h3v1h-3zM151 430h1v1h-1zM193 430h1v1h-1zM96 431h2v1h-2zM113 431h2v1h-2zM150 431h1v1h-1zM194 431h1v1h-1zM95 432h1v1h-1zM115 432h1v1h-1zM149 432h1v1h-1zM195 432h1v1h-1zM93 433h2v1h-2zM116 433h1v1h-1zM148 433h1v1h-1zM196 433h2v1h-2zM92 434h1v1h-1zM117 434h1v1h-1zM147 434h1v1h-1zM198 434h1v1h-1zM91 435h1v1h-1zM118 435h1v1h-1zM146 435h1v1h-1zM199 435h2v1h-2zM90 436h1v1h-1zM119 436h1v1h-1zM145 436h1v1h-1zM201 436h2v1h-2zM89 437h1v1h-1zM120 437h1v1h-1zM144 437h1v1h-1zM203 437h2v1h-2zM89 438h1v1h-1zM121 438h1v1h-1zM143 438h1v1h-1zM205 438h2v1h-2zM88 439h1v1h-1zM122 439h1v1h-1zM141 439h2v1h-2zM207 439h3v1h-3zM87 440h1v1h-1zM123 440h2v1h-2zM140 440h1v1h-1zM210 440h3v1h-3zM86 441h1v1h-1zM125 441h2v1h-2zM138 441h2v1h-2zM213 441h2v1h-2zM85 442h1v1h-1zM127 442h3v1h-3zM136 442h2v1h-2zM215 442h7v1h-7zM41 443h17v1h-17zM84 443h1v1h-1zM130 443h6v1h-6zM222 443h11v1h-11zM38 444h3v1h-3zM58 444h4v1h-4zM83 444h1v1h-1zM233 444h2v1h-2zM36 445h2v1h-2zM62 445h3v1h-3zM81 445h2v1h-2zM235 445h1v1h-1zM30 446h6v1h-6zM65 446h2v1h-2zM80 446h1v1h-1zM236 446h2v1h-2zM28 447h2v1h-2zM67 447h2v1h-2zM77 447h3v1h-3zM238 447h1v1h-1zM27 448h1v1h-1zM69 448h2v1h-2zM73 448h4v1h-4zM239 448h1v1h-1zM26 449h1v1h-1zM71 449h2v1h-2zM240 449h1v1h-1zM25 450h1v1h-1zM241 450h1v1h-1zM25 451h1v1h-1zM242 451h1v1h-1zM24 452h1v1h-1zM243 452h1v1h-1zM23 453h1v1h-1zM244 453h1v1h-1zM22 454h1v1h-1zM245 454h1v1h-1zM22 455h1v1h-1zM245 455h1v1h-1zM21 456h1v1h-1zM246 456h1v1h-1zM20 457h1v1h-1zM247 457h1v1h-1zM20 458h1v1h-1zM248 458h1v1h-1zM19 459h1v1h-1zM249 459h1v1h-1zM18 460h1v1h-1zM249 460h1v1h-1zM18 461h1v1h-1zM250 461h1v1h-1zM17 462h1v1h-1zM251 462h1v1h-1zM17 463h1v1h-1zM252 463h2v1h-2zM285 463h13v1h-13zM441 463h17v1h-17zM16 464h1v1h-1zM254 464h1v1h-1zM282 464h3v1h-3zM298 464h3v1h-3zM437 464h4v1h-4zM458 464h4v1h-4zM16 465h1v1h-1zM255 465h1v1h-1zM280 465h2v1h-2zM301 465h2v1h-2zM433 465h4v1h-4zM462 465h3v1h-3zM15 466h1v1h-1zM256 466h2v1h-2zM277 466h3v1h-3zM303 466h3v1h-3zM430 466h3v1h-3zM465 466h2v1h-2zM14 467h1v1h-1zM258 467h1v1h-1zM274 467h3v1h-3zM306 467h3v1h-3zM428 467h2v1h-2zM467 467h3v1h-3zM14 468h1v1h-1zM259 468h2v1h-2zM272 468h2v1h-2zM309 468h2v1h-2zM426 468h2v1h-2zM470 468h4v1h-4zM13 469h1v1h-1zM261 469h2v1h-2zM269 469h3v1h-3zM311 469h2v1h-2zM424 469h2v1h-2zM474 469h3v1h-3zM12 470h1v1h-1zM263 470h6v1h-6zM313 470h2v1h-2zM369 470h17v1h-17zM422 470h2v1h-2zM477 470h2v1h-2zM12 471h1v1h-1zM315 471h2v1h-2zM361 471h8v1h-8zM386 471h4v1h-4zM420 471h2v1h-2zM479 471h1v1h-1zM11 472h1v1h-1zM317 472h2v1h-2zM358 472h3v1h-3zM390 472h4v1h-4zM417 472h3v1h-3zM480 472h1v1h-1zM9 473h2v1h-2zM319 473h1v1h-1zM356 473h2v1h-2zM394 473h4v1h-4zM414 473h3v1h-3zM481 473h1v1h-1zM8 474h1v1h-1zM320 474h2v1h-2zM354 474h2v1h-2zM398 474h4v1h-4zM412 474h2v1h-2zM482 474h1v1h-1zM7 475h1v1h-1zM322 475h1v1h-1zM352 475h2v1h-2zM402 475h10v1h-10zM483 475h1v1h-1zM5 476h2v1h-2zM323 476h2v1h-2zM349 476h3v1h-3zM484 476h1v1h-1zM4 477h1v1h-1zM325 477h2v1h-2zM346 477h3v1h-3zM485 477h1v1h-1zM3 478h1v1h-1zM327 478h3v1h-3zM344 478h2v1h-2zM486 478h1v1h-1zM330 479h4v1h-4zM341 479h3v1h-3zM487 479h1v1h-1zM577 479h29v1h-29zM334 480h7v1h-7zM488 480h1v1h-1zM574 480h3v1h-3zM606 480h12v1h-12zM489 481h1v1h-1zM572 481h2v1h-2zM618 481h3v1h-3zM490 482h1v1h-1zM569 482h3v1h-3zM621 482h2v1h-2zM491 483h1v1h-1zM565 483h4v1h-4zM623 483h1v1h-1zM492 484h1v1h-1zM537 484h5v1h-5zM561 484h4v1h-4zM624 484h2v1h-2zM493 485h1v1h-1zM530 485h7v1h-7zM542 485h4v1h-4zM553 485h8v1h-8zM626 485h1v1h-1zM493 486h1v1h-1zM528 486h2v1h-2zM546 486h7v1h-7zM627 486h1v1h-1zM738 486h11v1h-11zM494 487h1v1h-1zM525 487h3v1h-3zM628 487h2v1h-2zM736 487h2v1h-2zM749 487h2v1h-2zM495 488h1v1h-1zM522 488h3v1h-3zM630 488h1v1h-1zM733 488h3v1h-3zM751 488h1v1h-1zM496 489h2v1h-2zM520 489h2v1h-2zM631 489h1v1h-1zM729 489h4v1h-4zM752 489h2v1h-2zM498 490h1v1h-1zM519 490h1v1h-1zM632 490h1v1h-1zM725 490h4v1h-4zM754 490h1v1h-1zM499 491h1v1h-1zM517 491h2v1h-2zM633 491h1v1h-1zM722 491h3v1h-3zM755 491h2v1h-2zM500 492h2v1h-2zM516 492h1v1h-1zM634 492h1v1h-1zM720 492h2v1h-2zM757 492h2v1h-2zM502 493h1v1h-1zM513 493h3v1h-3zM635 493h2v1h-2zM717 493h3v1h-3zM759 493h1v1h-1zM503 494h10v1h-10zM637 494h2v1h-2zM714 494h3v1h-3zM760 494h2v1h-2zM639 495h2v1h-2zM665 495h8v1h-8zM712 495h2v1h-2zM762 495h1v1h-1zM817 495h6v1h-6zM641 496h2v1h-2zM661 496h4v1h-4zM673 496h2v1h-2zM709 496h3v1h-3zM763 496h2v1h-2zM813 496h4v1h-4zM643 497h2v1h-2zM658 497h3v1h-3zM675 497h2v1h-2zM706 497h3v1h-3zM765 497h2v1h-2zM809 497h4v1h-4zM645 498h2v1h-2zM656 498h2v1h-2zM677 498h2v1h-2zM704 498h2v1h-2zM767 498h1v1h-1zM806 498h3v1h-3zM647 499h9v1h-9zM679 499h1v1h-1zM702 499h2v1h-2zM768 499h2v1h-2zM804 499h2v1h-2zM680 500h2v1h-2zM700 500h2v1h-2zM770 500h1v1h-1zM802 500h2v1h-2zM682 501h1v1h-1zM698 501h2v1h-2zM771 501h2v1h-2zM800 501h2v1h-2zM683 502h3v1h-3zM696 502h2v1h-2zM773 502h2v1h-2zM798 502h2v1h-2zM686 503h4v1h-4zM693 503h3v1h-3zM775 503h2v1h-2zM796 503h2v1h-2zM690 504h3v1h-3zM777 504h2v1h-2zM793 504h3v1h-3zM779 505h3v1h-3zM789 505h4v1h-4zM782 506h7v1h-7z" fill="#c0c0c0"/>
<rect x="2" y="2" width="927" height="1" fill="#000"/>
<rect x="2" y="412" width="927" height="1" fill="#000"/>
<rect x="2" y="2" width="1" height="411" fill="#000"/>
<rect x="928" y="2" width="1" height="411" fill="#000"/>
<rect x="2" y="414" width="927" height="1" fill="#000"/>
<rect x="2" y="515" width="927" height="1" fill="#000"/>
<rect x="2" y="414" width="1" height="102" fill="#000"/>
<rect x="928" y="414" width="1" height="102" fill="#000"/>
<rect x="0" y="0" width="2" height="536" fill="#fff"/>
<rect x="929" y="13" width="2" height="1" fill="#000"/>
<rect x="929" y="46" width="2" height="1" fill="#000"/>
<rect x="929" y="79" width="2" height="1" fill="#000"/>
<rect x="929" y="112" width="2" height="1" fill="#000"/>
<rect x="929" y="178" width="2" height="1" fill="#000"/>
<rect x="929" y="211" width="2" height="1" fill="#000"/>
<rect x="929" y="244" width="2" height="1" fill="#000"/>
<rect x="929" y="277" width="2" height="1" fill="#000"/>
<rect x="929" y="310" width="2" height="1" fill="#000"/>
<rect x="929" y="343" width="2" height="1" fill="#000"/>
<rect x="929" y="409" width="2" height="1" fill="#000"/>
<rect x="929" y="376" width="2" height="1" fill="#000"/>
<rect x="929" y="416" width="2" height="1" fill="#000"/>
<rect x="929" y="470" width="2" height="1" fill="#000"/>
<rect x="929" y="515" width="2" height="1" fill="#000"/>
<rect x="3" y="516" width="1" height="3" fill="#000"/>
<rect x="67" y="516" width="1" height="3" fill="#000"/>
<rect x="131" y="516" width="1" height="3" fill="#000"/>
<rect x="195" y="516" width="1" height="3" fill="#000"/>
<rect x="259" y="516" width="1" height="3" fill="#000"/>
<rect x="323" y="516" width="1" height="3" fill="#000"/>
<rect x="387" y="516" width="1" height="3" fill="#000"/>
<rect x="451" y="516" width="1" height="3" fill="#000"/>
<rect x="515" y="516" width="1" height="3" fill="#000"/>
<rect x="579" y="516" width="1" height="3" fill="#000"/>
<rect x="643" y="516" width="1" height="3" fill="#000"/>
<rect x="707" y="516" width="1" height="3" fill="#000"/>
<rect x="771" y="516" width="1" height="3" fill="#000"/>
<rect x="6" y="9" width="7" height="1" fill="#000"/>
<rect x="7" y="10" width="5" height="1" fill="#000"/>
<rect x="8" y="11" width="3" height="1" fill="#000"/>
<rect x="9" y="12" width="1" height="1" fill="#000"/>
<rect x="931" y="16" width="39" height="11" fill="#ff0000"/>
<rect x="931" y="67" width="39" height="11" fill="#ff0000"/>
<rect x="931" y="140" width="39" height="11" fill="#ff0000"/>
<rect x="931" y="215" width="39" height="11" fill="#ff0000"/>
<rect x="931" y="267" width="39" height="11" fill="#ff0000"/>
<rect x="931" y="395" width="39" height="11" fill="#ff0000"/>
<rect x="931" y="372" width="39" height="11" fill="#000"/>
</g>
<text x="934.4" y="17" textLength="32.4" lengthAdjust="spacingAndGlyphs">109.440</text>
<text x="934.4" y="50" textLength="32.4" lengthAdjust="spacingAndGlyphs">109.225</text>
<text x="934.4" y="83" textLength="32.4" lengthAdjust="spacingAndGlyphs">109.010</text>
<text x="934.4" y="116" textLength="32.4" lengthAdjust="spacingAndGlyphs">108.795</text>
<text x="934.4" y="182" textLength="32.4" lengthAdjust="spacingAndGlyphs">108.365</text>
<text x="934.4" y="215" textLength="32.4" lengthAdjust="spacingAndGlyphs">108.150</text>
<text x="934.4" y="248" textLength="32.4" lengthAdjust="spacingAndGlyphs">107.935</text>
<text x="934.4" y="281" textLength="32.4" lengthAdjust="spacingAndGlyphs">107.725</text>
<text x="934.4" y="314" textLength="32.4" lengthAdjust="spacingAndGlyphs">107.510</text>
<text x="934.4" y="347" textLength="32.4" lengthAdjust="spacingAndGlyphs">107.295</text>
<text x="934.4" y="413" textLength="32.4" lengthAdjust="spacingAndGlyphs">106.865</text>
<text x="934.4" y="25" textLength="32.4" lengthAdjust="spacingAndGlyphs" class="w">109.381</text>
<text x="934.4" y="76" textLength="32.4" lengthAdjust="spacingAndGlyphs" class="w">109.051</text>
<text x="934.4" y="149" textLength="32.4" lengthAdjust="spacingAndGlyphs" class="w">108.576</text>
<text x="934.4" y="224" textLength="32.4" lengthAdjust="spacingAndGlyphs" class="w">108.089</text>
<text x="934.4" y="276" textLength="32.4" lengthAdjust="spacingAndGlyphs" class="w">107.751</text>
<text x="934.4" y="404" textLength="32.4" lengthAdjust="spacingAndGlyphs" class="w">106.921</text>
<text x="934.4" y="381" textLength="32.4" lengthAdjust="spacingAndGlyphs" class="w">107.077</text>
<text x="931.5" y="425" textLength="38" lengthAdjust="spacingAndGlyphs">0.619892</text>
<text x="931.5" y="474" textLength="18" lengthAdjust="spacingAndGlyphs">0.00</text>
<text x="931.5" y="512" textLength="41.5" lengthAdjust="spacingAndGlyphs">-0.503495</text>
<text x="18" y="14" textLength="51" lengthAdjust="spacingAndGlyphs">USDJPY,H1</text>
<text x="75.4" y="14" textLength="33" lengthAdjust="spacingAndGlyphs">107.094</text>
<text x="111.2" y="14" textLength="33" lengthAdjust="spacingAndGlyphs">107.102</text>
<text x="147" y="14" textLength="33" lengthAdjust="spacingAndGlyphs">107.067</text>
<text x="183.2" y="14" textLength="32.6" lengthAdjust="spacingAndGlyphs">107.077</text>
<text x="6.5" y="427" textLength="85.5" lengthAdjust="spacingAndGlyphs">MACD_color(5,34,5)</text>
<text x="95" y="427" textLength="38" lengthAdjust="spacingAndGlyphs">0.000000</text>
<text x="136" y="427" textLength="38" lengthAdjust="spacingAndGlyphs">0.000000</text>
<text x="177" y="427" textLength="41.5" lengthAdjust="spacingAndGlyphs">-0.279325</text>
<text x="2" y="528" textLength="45.5" lengthAdjust="spacingAndGlyphs">2 Apr 2020</text>
<text x="66" y="528" textLength="48.5" lengthAdjust="spacingAndGlyphs">3 Apr 07:00</text>
<text x="130" y="528" textLength="48.5" lengthAdjust="spacingAndGlyphs">6 Apr 00:00</text>
<text x="194" y="528" textLength="48.5" lengthAdjust="spacingAndGlyphs">6 Apr 16:00</text>
<text x="258" y="528" textLength="48.5" lengthAdjust="spacingAndGlyphs">7 Apr 08:00</text>
<text x="322" y="528" textLength="48.5" lengthAdjust="spacingAndGlyphs">8 Apr 00:00</text>
<text x="386" y="528" textLength="48.5" lengthAdjust="spacingAndGlyphs">8 Apr 16:00</text>
<text x="450" y="528" textLength="48.5" lengthAdjust="spacingAndGlyphs">9 Apr 08:00</text>
<text x="514" y="528" textLength="53.5" lengthAdjust="spacingAndGlyphs">10 Apr 00:00</text>
<text x="578" y="528" textLength="53.5" lengthAdjust="spacingAndGlyphs">10 Apr 16:00</text>
<text x="642" y="528" textLength="53.5" lengthAdjust="spacingAndGlyphs">13 Apr 09:00</text>
<text x="706" y="528" textLength="53.5" lengthAdjust="spacingAndGlyphs">14 Apr 01:00</text>
<text x="770" y="528" textLength="53.5" lengthAdjust="spacingAndGlyphs">14 Apr 17:00</text>
</svg></body></html>
